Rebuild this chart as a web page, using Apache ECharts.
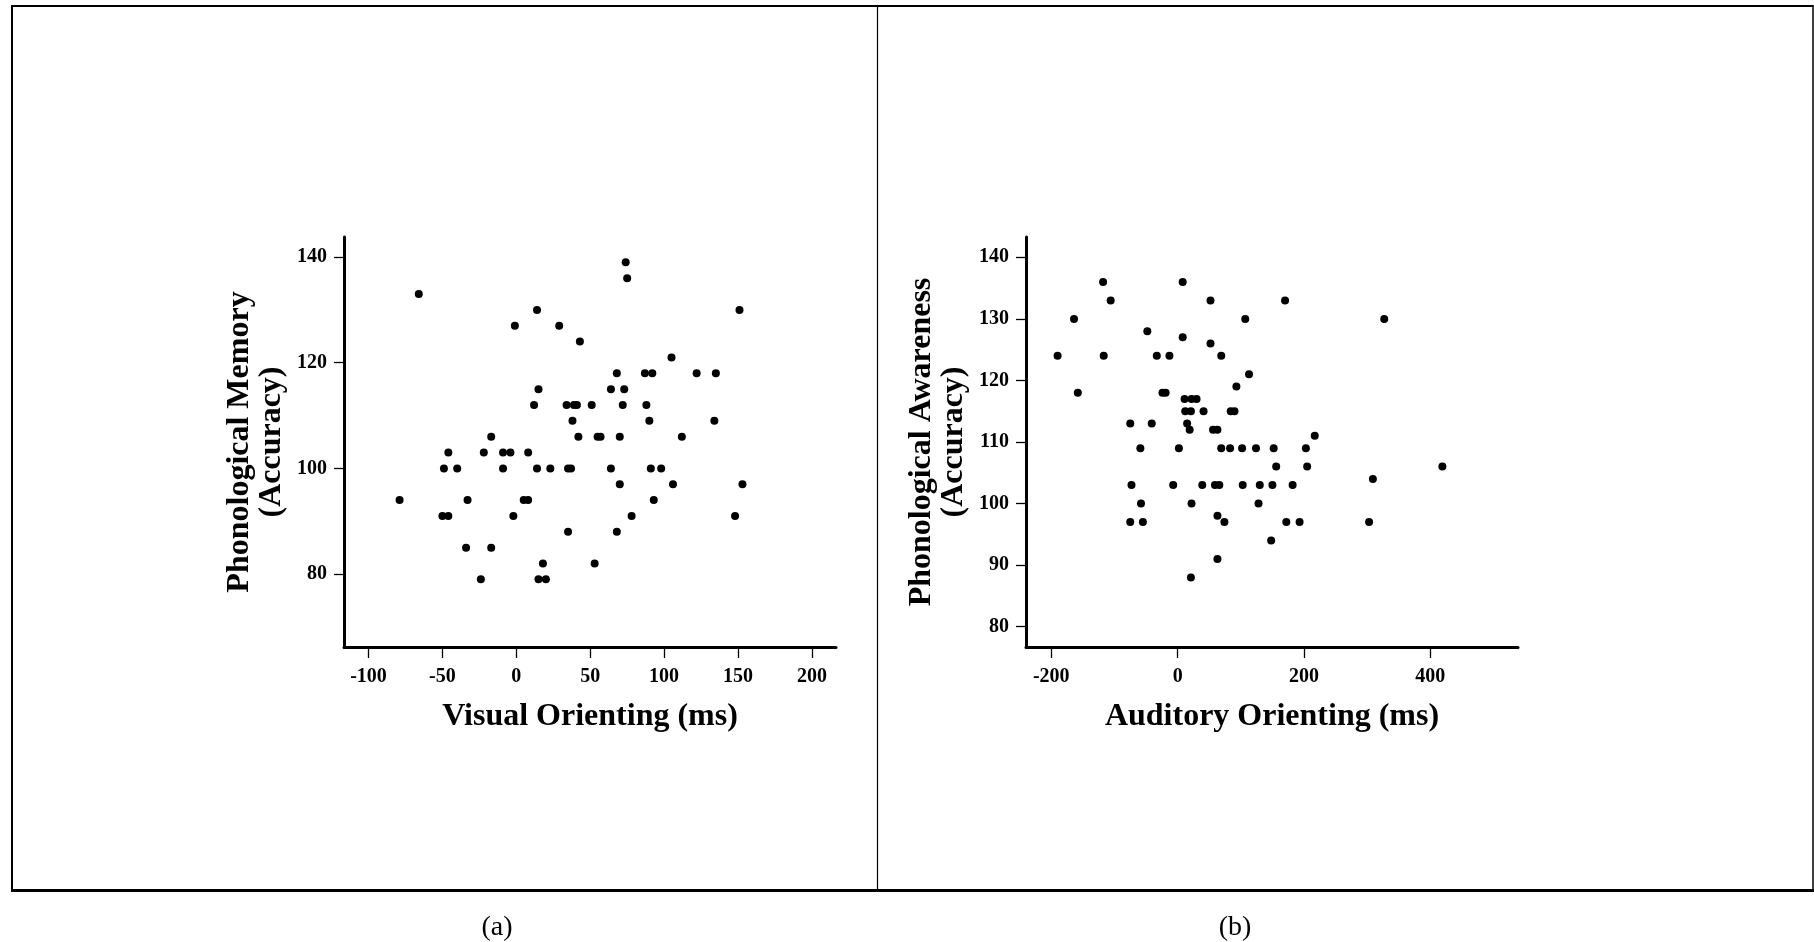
<!DOCTYPE html>
<html>
<head>
<meta charset="utf-8">
<script src="https://cdn.jsdelivr.net/npm/echarts@6/dist/echarts.min.js"></script>
<style>
html, body { margin: 0; padding: 0; background: #fff; }
#chart { width: 1814px; height: 942px; }
</style>
</head>
<body>
<div id="chart"></div>
<script>
// panel (a): visual orienting (ms) vs phonological memory, listed row by row
const visualX = [
  74, 75, -66, 14, 151, -1, 29, 43, 105,
  68, 87, 92, 122, 135,
  15, 64, 73,
  12, 34, 39, 41, 51, 72, 88,
  38, 90, 134,
  -17, 42, 55, 57, 70, 112,
  -46, -22, -9, -4, 8,
  -49, -40, -9, 14, 23, 35, 37, 64, 91, 98,
  70, 106, 153,
  -79, -33, 5, 8, 93,
  -50, -46, -2, 78, 148,
  35, 68, -34, -17, 18, 53, -24, 15, 20
];
const memoryY = [
  139, 136, 133, 130, 130, 127, 127, 124, 121,
  118, 118, 118, 118, 118,
  115, 115, 115,
  112, 112, 112, 112, 112, 112, 112,
  109, 109, 109,
  106, 106, 106, 106, 106, 106,
  103, 103, 103, 103, 103,
  100, 100, 100, 100, 100, 100, 100, 100, 100, 100,
  97, 97, 97,
  94, 94, 94, 94, 94,
  91, 91, 91, 91, 91,
  88, 88, 85, 85, 82, 82, 79, 79, 79
];

// panel (b): auditory orienting (ms) vs phonological awareness
const auditoryX = [
  -118, 8, -106, 52, 170, -164, 107, 327,
  -48, 8, 52,
  -190, -117, -33, -13, 69,
  113, 93, -158, -24, -19,
  11, 22, 30,
  12, 21, 41, 84, 90,
  -75, -41, 15, 19, 56, 63, 217,
  -59, 2, 69, 83, 102, 124, 152, 203,
  156, 205, 419, 309,
  -73, -7, 39, 59, 66, 103, 130, 150, 182,
  -58, 22, 128, 63,
  -75, -55, 74, 172, 193, 303,
  148, 63, 21
];
const awarenessY = [
  136, 136, 133, 133, 133, 130, 130, 130,
  128, 127, 126,
  124, 124, 124, 124, 124,
  121, 119, 118, 118, 118,
  117, 117, 117,
  115, 115, 115, 115, 115,
  113, 113, 113, 112, 112, 112, 111,
  109, 109, 109, 109, 109, 109, 109, 109,
  106, 106, 106, 104,
  103, 103, 103, 103, 103, 103, 103, 103, 103,
  100, 100, 100, 98,
  97, 97, 97, 97, 97, 97,
  94, 91, 88
];

const visualTicks = [-100, -50, 0, 50, 100, 150, 200];
const memoryTicks = [80, 100, 120, 140];
const auditoryTicks = [-200, 0, 200, 400];
const awarenessTicks = [80, 90, 100, 110, 120, 130, 140];

const serif = "'Liberation Serif', 'Times New Roman', serif";

function xAxisFor(gridIndex, min, max, ticks, name) {
  return {
    type: 'value', gridIndex: gridIndex, min: min, max: max,
    name: name, nameLocation: 'middle', nameGap: 54,
    nameTextStyle: { fontFamily: serif, fontWeight: 'bold', fontSize: 32, color: '#000' },
    splitLine: { show: false },
    axisLine: { onZero: false, lineStyle: { color: '#000', width: 3 } },
    axisTick: { customValues: ticks, length: 11, lineStyle: { color: '#000', width: 1.3 } },
    axisLabel: { customValues: ticks, margin: 20, fontFamily: serif, fontWeight: 'bold', fontSize: 20, color: '#000' }
  };
}

function yAxisFor(gridIndex, min, max, ticks, name) {
  return {
    type: 'value', gridIndex: gridIndex, min: min, max: max,
    name: name, nameLocation: 'middle', nameGap: 56, nameRotate: 90,
    nameTextStyle: { fontFamily: serif, fontWeight: 'bold', fontSize: 32, lineHeight: 32, color: '#000' },
    splitLine: { show: false },
    axisLine: { onZero: false, lineStyle: { color: '#000', width: 3 } },
    axisTick: { customValues: ticks, length: 10, lineStyle: { color: '#000', width: 1.3 } },
    axisLabel: { customValues: ticks, margin: 17, fontFamily: serif, fontWeight: 'bold', fontSize: 20, color: '#000' }
  };
}

const chart = echarts.init(document.getElementById('chart'));

const option = {
  backgroundColor: '#fff',
  animation: false,
  grid: [
    { left: 344, top: 237, width: 492, height: 410 },
    { left: 1026, top: 237, width: 492, height: 410 }
  ],
  xAxis: [
    xAxisFor(0, -116.6, 216.3, visualTicks, 'Visual Orienting (ms)'),
    xAxisFor(1, -240, 538.7, auditoryTicks, 'Auditory Orienting (ms)')
  ],
  yAxis: [
    yAxisFor(0, 66.2, 143.8, memoryTicks, 'Phonological Memory\n(Accuracy)'),
    yAxisFor(1, 76.7, 143.3, awarenessTicks, 'Phonological Awareness\n(Accuracy)')
  ],
  series: [
    {
      type: 'scatter', xAxisIndex: 0, yAxisIndex: 0,
      symbolSize: 8, itemStyle: { color: '#000', opacity: 1 },
      data: visualX.map((x, i) => [x, memoryY[i]])
    },
    {
      type: 'scatter', xAxisIndex: 1, yAxisIndex: 1,
      symbolSize: 8, itemStyle: { color: '#000', opacity: 1 },
      data: auditoryX.map((x, i) => [x, awarenessY[i]])
    }
  ],
  graphic: [
    // outer frame and divider
    { type: 'line', shape: { x1: 12, y1: 6, x2: 1813, y2: 6 }, style: { stroke: '#000', lineWidth: 2 } },
    { type: 'line', shape: { x1: 12, y1: 5, x2: 12, y2: 892 }, style: { stroke: '#000', lineWidth: 2 } },
    { type: 'line', shape: { x1: 1813, y1: 5, x2: 1813, y2: 892 }, style: { stroke: '#000', lineWidth: 1.5 } },
    { type: 'line', shape: { x1: 11, y1: 890.5, x2: 1814, y2: 890.5 }, style: { stroke: '#000', lineWidth: 3 } },
    { type: 'line', shape: { x1: 877.5, y1: 6, x2: 877.5, y2: 889 }, style: { stroke: '#000', lineWidth: 1.2 } },
    {
      type: 'text', x: 497, y: 928,
      style: { text: '(a)', fontFamily: serif, fontSize: 28, fill: '#000', align: 'center', verticalAlign: 'middle' }
    },
    {
      type: 'text', x: 1235, y: 928,
      style: { text: '(b)', fontFamily: serif, fontSize: 28, fill: '#000', align: 'center', verticalAlign: 'middle' }
    }
  ]
};

chart.setOption(option);
</script>
</body>
</html>
